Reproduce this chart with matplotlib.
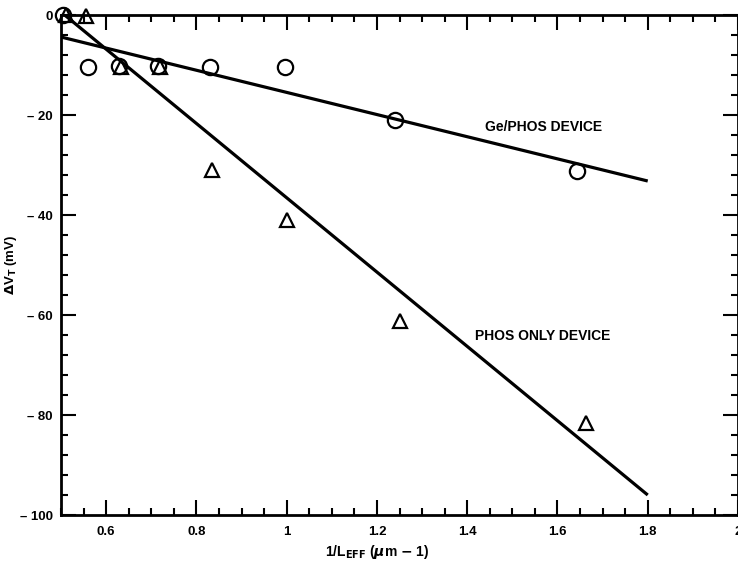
import numpy as np
import matplotlib.pyplot as plt
from matplotlib.ticker import MultipleLocator, FixedLocator

plt.rcParams['font.family'] = ['Liberation Sans', 'DejaVu Sans']
plt.rcParams['font.weight'] = 'bold'

# Ge/PHOS device (circles)
ge_x = [0.505, 0.56, 0.628, 0.715, 0.83, 0.997, 1.24, 1.643]
ge_y = [0, -10.4, -10.2, -10.2, -10.4, -10.4, -21, -31.2]

# PHOS only device (triangles)
ph_x = [0.51, 0.556, 0.633, 0.72, 0.835, 1.0, 1.25, 1.663]
ph_y = [0, -0.2, -10.4, -10.4, -31, -41, -61.2, -81.6]

# fitted lines (end points)
ge_fit_x = [0.5, 1.8]
ge_fit_y = [-4.4, -33.2]
ph_fit_x = [0.5, 1.8]
ph_fit_y = [0.6, -96]

xticks = [0.6, 0.8, 1, 1.2, 1.4, 1.6, 1.8, 2]
xtick_labels = ['0.6', '0.8', '1', '1.2', '1.4', '1.6', '1.8', '2']
yticks = [0, -20, -40, -60, -80, -100]
ytick_labels = ['0', '\u2013 20', '\u2013 40', '\u2013 60', '\u2013 80', '\u2013 100']

fig = plt.figure(figsize=(7.38, 5.69), dpi=100)
ax = fig.add_axes([0.0827, 0.0949, 0.9173, 0.8787])

ax.plot(ge_fit_x, ge_fit_y, color='black', lw=2.3, solid_capstyle='butt')
ax.plot(ph_fit_x, ph_fit_y, color='black', lw=2.3, solid_capstyle='butt')
ax.plot(ge_x, ge_y, 'o', ms=11, mfc='none', mec='black', mew=1.6, clip_on=False)
ax.plot(ph_x, ph_y, '^', ms=10, mfc='none', mec='black', mew=1.6, clip_on=False)

ax.text(1.57, -22.4, 'Ge/PHOS DEVICE', ha='center', va='center', fontsize=10, fontweight='bold')
ax.text(1.567, -64.2, 'PHOS ONLY DEVICE', ha='center', va='center', fontsize=10, fontweight='bold')

ax.set_xlim(0.5, 2.0)
ax.set_ylim(-100, 0)
ax.xaxis.set_major_locator(FixedLocator(xticks))
ax.set_xticklabels(xtick_labels)
ax.yaxis.set_major_locator(FixedLocator(yticks))
ax.set_yticklabels(ytick_labels)
ax.xaxis.set_minor_locator(MultipleLocator(0.05))
ax.yaxis.set_minor_locator(MultipleLocator(4))

ax.tick_params(which='both', direction='in', top=True, right=True, width=1.5, labelsize=9.5)
ax.tick_params(which='major', length=11)
ax.tick_params(which='minor', length=5)
ax.tick_params(axis='x', pad=8)
ax.tick_params(axis='y', pad=6)
for lab in ax.get_xticklabels() + ax.get_yticklabels():
    lab.set_fontweight('bold')
for s in ax.spines.values():
    s.set_linewidth(2)

ax.set_xlabel(r'1/L$_{\mathbf{EFF}}$ ($\mu$m $-$ 1)', fontsize=10, fontweight='bold')
ax.set_ylabel(r'$\Delta$V$_{\mathbf{T}}$ (mV)', fontsize=9.5, fontweight='bold')
ax.xaxis.set_label_coords(0.467, -0.055)
ax.yaxis.set_label_coords(-0.062, 0.5)

fig.savefig('out.png', dpi=100)
